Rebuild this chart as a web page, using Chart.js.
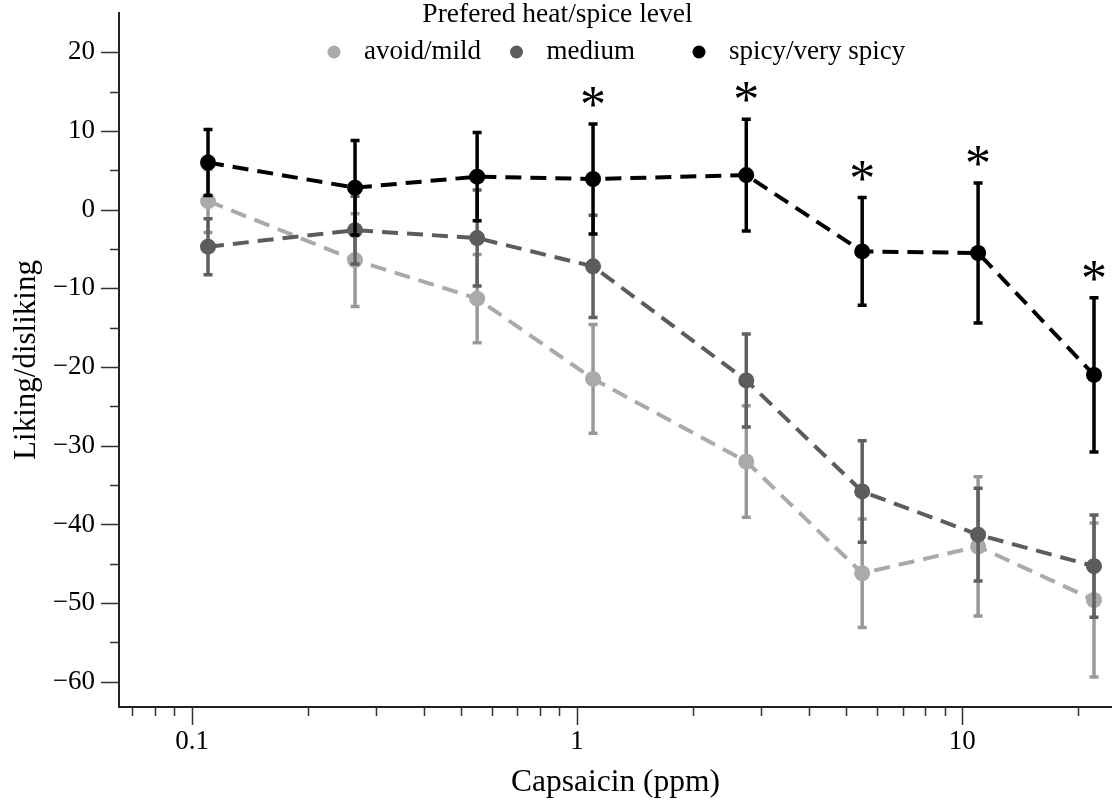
<!DOCTYPE html>
<html>
<head>
<meta charset="utf-8">
<script src="https://cdn.jsdelivr.net/npm/chart.js@4"></script>
<style>
  html, body { margin: 0; padding: 0; background: #fff; }
</style>
</head>
<body>
<canvas id="chart" width="1112" height="804"></canvas>
<script>
// capsaicin concentrations (ppm) on the x axis
const concentrations = [0.11, 0.265, 0.55, 1.1, 2.75, 5.5, 11, 22];

// mean liking/disliking per preferred heat level, plus error bar half lengths
const mildMeans = [1.1, -6.4, -11.3, -21.5, -32.0, -46.2, -42.8, -49.6];
const mildErrors = [4.0, 5.9, 5.6, 6.9, 7.1, 6.9, 8.85, 9.8];
const mediumMeans = [-4.7, -2.6, -3.6, -7.2, -21.7, -35.8, -41.3, -45.3];
const mediumErrors = [3.55, 4.3, 6.1, 6.5, 5.9, 6.45, 5.9, 6.5];
const spicyMeans = [6.0, 2.8, 4.2, 3.9, 4.4, -5.3, -5.5, -21.0];
const spicyErrors = [4.2, 6.0, 5.6, 7.0, 7.1, 6.85, 8.9, 9.8];

// concentrations where the groups differ (marked with *)
const significant = [false, false, false, true, true, true, true, true];

const seriesLabels = ['avoid/mild', 'medium', 'spicy/very spicy'];
const legendTitle = 'Prefered heat/spice level';

// tick positions
const yTickValues = [-60, -55, -50, -45, -40, -35, -30, -25, -20, -15, -10, -5, 0, 5, 10, 15, 20];
const xTickValues = [0.07, 0.08, 0.09, 0.1, 0.2, 0.3, 0.4, 0.5, 0.6, 0.7, 0.8, 0.9,
  1, 2, 3, 4, 5, 6, 7, 8, 9, 10, 20];
const xLabelValues = [0.1, 1, 10];

const serif = '"Liberation Serif", "Times New Roman", serif';

function makeSet(label, means, errors, color, barColor, order) {
  return {
    label: label,
    data: concentrations.map((c, i) => ({ x: c, y: means[i] })),
    errors: errors,
    barColor: barColor,
    borderColor: color,
    backgroundColor: color,
    pointBackgroundColor: color,
    pointBorderWidth: 0,
    pointRadius: 8,
    pointHoverRadius: 8,
    borderWidth: 4,
    borderDash: [16, 9],
    tension: 0,
    fill: false,
    order: order
  };
}

// error bars, drawn just under each series' own line and points
const errorBars = {
  id: 'errorBars',
  beforeDatasetDraw(chart, args) {
    const ds = chart.data.datasets[args.index];
    const yScale = chart.scales.y;
    const ctx = chart.ctx;
    ctx.save();
    ctx.strokeStyle = ds.barColor;
    ctx.lineWidth = 3.5;
    args.meta.data.forEach((pt, i) => {
      const top = yScale.getPixelForValue(ds.data[i].y + ds.errors[i]);
      const bot = yScale.getPixelForValue(ds.data[i].y - ds.errors[i]);
      ctx.beginPath();
      ctx.moveTo(pt.x, top);
      ctx.lineTo(pt.x, bot);
      ctx.moveTo(pt.x - 4.5, top);
      ctx.lineTo(pt.x + 4.5, top);
      ctx.moveTo(pt.x - 4.5, bot);
      ctx.lineTo(pt.x + 4.5, bot);
      ctx.stroke();
    });
    ctx.restore();
  }
};

// asterisks above the spicy group's error bars
const stars = {
  id: 'stars',
  afterDatasetsDraw(chart) {
    const ds = chart.data.datasets[2];
    const meta = chart.getDatasetMeta(2);
    const yScale = chart.scales.y;
    const ctx = chart.ctx;
    ctx.save();
    ctx.fillStyle = '#000';
    ctx.font = '52px ' + serif;
    ctx.textAlign = 'center';
    ctx.textBaseline = 'alphabetic';
    meta.data.forEach((pt, i) => {
      if (!significant[i]) return;
      const top = yScale.getPixelForValue(ds.data[i].y + ds.errors[i]);
      ctx.fillText('*', pt.x, top - 2);
    });
    ctx.restore();
  }
};

// tick marks: long for labelled values, short for the rest
const tickMarks = {
  id: 'tickMarks',
  afterDraw(chart) {
    const ctx = chart.ctx;
    const xs = chart.scales.x, ys = chart.scales.y;
    ctx.save();
    ctx.strokeStyle = '#333';
    ctx.lineWidth = 1.5;
    ctx.beginPath();
    xTickValues.forEach(v => {
      const px = Math.round(xs.getPixelForValue(v)) + 0.5;
      const len = xLabelValues.includes(v) ? 18 : 9;
      ctx.moveTo(px, xs.top);
      ctx.lineTo(px, xs.top + len);
    });
    yTickValues.forEach(v => {
      const py = Math.round(ys.getPixelForValue(v)) + 0.5;
      const len = v % 10 === 0 ? 18 : 9;
      ctx.moveTo(ys.right, py);
      ctx.lineTo(ys.right - len, py);
    });
    ctx.stroke();
    ctx.restore();
  }
};

// legend in fixed columns inside the plot area
const legendBox = {
  id: 'legendBox',
  afterDraw(chart) {
    const ctx = chart.ctx;
    const area = chart.chartArea;
    const cx = (area.left + area.right) / 2;
    ctx.save();
    ctx.fillStyle = '#000';
    ctx.font = '27.5px ' + serif;
    ctx.textAlign = 'center';
    ctx.textBaseline = 'middle';
    ctx.fillText(legendTitle, cx - 58, 15);
    ctx.font = '27px ' + serif;
    ctx.textAlign = 'left';
    chart.data.datasets.forEach((ds, i) => {
      const x0 = cx - 281.5 + i * 182.5;
      ctx.fillStyle = ds.backgroundColor;
      ctx.beginPath();
      ctx.arc(x0, 52, 6.5, 0, Math.PI * 2);
      ctx.fill();
      ctx.fillStyle = '#000';
      ctx.fillText(ds.label, x0 + 30, 52);
    });
    ctx.restore();
  }
};

const ctx = document.getElementById('chart').getContext('2d');

new Chart(ctx, {
  type: 'line',
  data: {
    datasets: [
      makeSet(seriesLabels[0], mildMeans, mildErrors, '#aaaaaa', '#999999', 3),
      makeSet(seriesLabels[1], mediumMeans, mediumErrors, '#5c5c5c', '#606060', 2),
      makeSet(seriesLabels[2], spicyMeans, spicyErrors, '#000000', '#000000', 1)
    ]
  },
  options: {
    responsive: false,
    devicePixelRatio: 1,
    animation: false,
    layout: { autoPadding: false, padding: { top: 13, right: 0, bottom: 0, left: 0 } },
    plugins: {
      legend: { display: false },
      tooltip: { enabled: false }
    },
    scales: {
      x: {
        type: 'logarithmic',
        min: 0.0646,
        max: 24.5,
        bounds: 'data',
        afterBuildTicks: s => { s.ticks = xTickValues.map(v => ({ value: v })); },
        afterFit: s => { s.height = 97; s.paddingLeft = 0; s.paddingRight = 0; },
        grid: { display: true, drawOnChartArea: false, drawTicks: true, tickLength: 18, tickColor: 'rgba(0,0,0,0)' },
        border: { display: true, color: '#222', width: 2 },
        ticks: {
          autoSkip: false,
          maxRotation: 0,
          padding: 1,
          color: '#000',
          font: { family: serif, size: 27 },
          callback: v => xLabelValues.includes(v) ? String(v) : ''
        },
        title: {
          display: true,
          text: 'Capsaicin (ppm)',
          color: '#000',
          font: { family: serif, size: 31.5 },
          padding: { top: 0, bottom: 2 }
        }
      },
      y: {
        min: -63.2,
        max: 25,
        bounds: 'data',
        afterBuildTicks: s => { s.ticks = yTickValues.map(v => ({ value: v })); },
        afterFit: s => { s.width = 119; s.paddingTop = 0; s.paddingBottom = 0; },
        grid: { display: true, drawOnChartArea: false, drawTicks: true, tickLength: 18, tickColor: 'rgba(0,0,0,0)' },
        border: { display: true, color: '#222', width: 2 },
        ticks: {
          autoSkip: false,
          padding: 6,
          color: '#000',
          font: { family: serif, size: 27 },
          callback: v => v % 10 === 0 ? (v < 0 ? '\u2212' + Math.abs(v) : String(v)) : ''
        },
        title: {
          display: true,
          text: 'Liking/disliking',
          color: '#000',
          font: { family: serif, size: 31 },
          padding: { top: 8, bottom: 0 }
        }
      }
    }
  },
  plugins: [errorBars, stars, tickMarks, legendBox]
});
</script>
</body>
</html>
